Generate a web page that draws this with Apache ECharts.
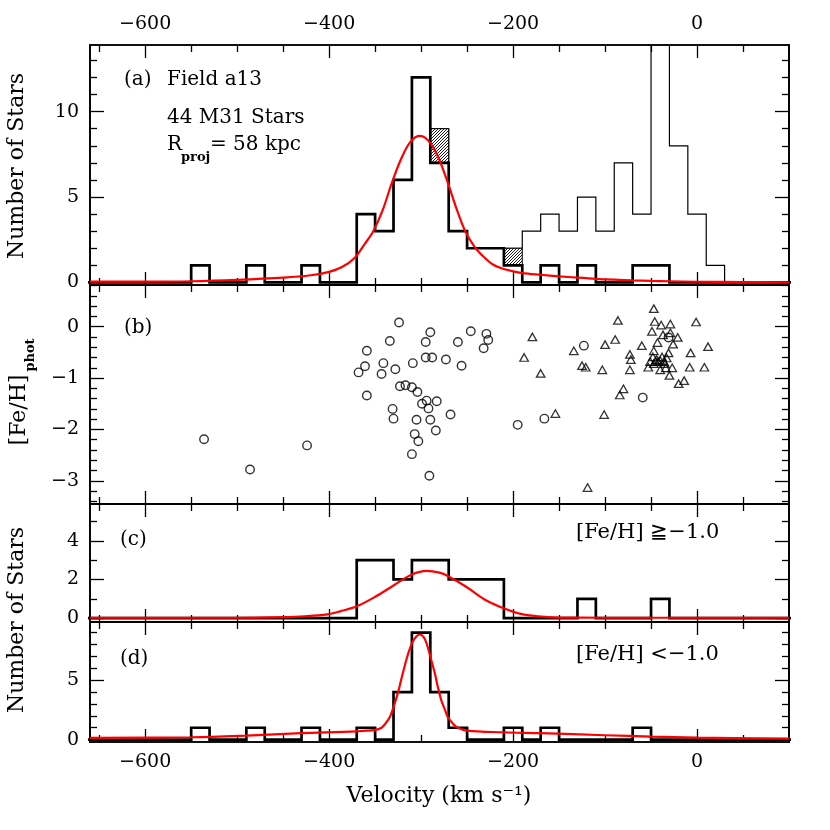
<!DOCTYPE html>
<html>
<head>
<meta charset="utf-8">
<title>Field a13 velocity distribution</title>
<script src="https://cdn.jsdelivr.net/npm/echarts@6/dist/echarts.min.js"></script>
<style>
  html, body { margin: 0; background: #fff; }
  #chart { width: 830px; height: 830px; }
</style>
</head>
<body>
<div id="chart"></div>
<script>
// 20 km/s velocity bins (left edges ... last right edge)
const binEdges = [-670, -650, -630, -610, -590, -570, -550, -530, -510, -490,
  -470, -450, -430, -410, -390, -370, -350, -330, -310, -290,
  -270, -250, -230, -210, -190, -170, -150, -130, -110, -90,
  -70, -50, -30, -10, 10, 30, 50, 70, 90, 110];

// (a) M31 members (thick)
const countsM31 = [0, 0, 0, 0, 0, 0, 1, 0, 0, 1,
  0, 0, 1, 0, 0, 4, 3, 6, 12, 7,
  3, 2, 2, 1, 0, 1, 0, 1, 0, 0,
  1, 1, 0, 0, 0, 0, 0, 0, 0];
// (a) all stars incl. foreground (thin)
const countsAll = [0, 0, 0, 0, 0, 0, 1, 0, 0, 1,
  0, 0, 1, 0, 0, 4, 3, 6, 12, 9,
  3, 2, 2, 2, 3, 4, 3, 5, 3, 7,
  4, 20, 8, 4, 1, 0, 0, 0, 0];
// (a) hatched boxes: [bin left edge, bottom, top]
const hatched = [[-290, 7, 9], [-210, 1, 2]];
// (c) [Fe/H] >= -1.0
const countsRich = [0, 0, 0, 0, 0, 0, 0, 0, 0, 0,
  0, 0, 0, 0, 0, 3, 3, 2, 3, 3,
  2, 2, 2, 0, 0, 0, 0, 1, 0, 0,
  0, 1, 0, 0, 0, 0, 0, 0, 0];
// (d) [Fe/H] < -1.0
const countsPoor = [0, 0, 0, 0, 0, 0, 1, 0, 0, 1,
  0, 0, 1, 0, 0, 1, 0, 4, 9, 4,
  1, 0, 0, 1, 0, 1, 0, 0, 0, 0,
  1, 0, 0, 0, 0, 0, 0, 0, 0];

// fitted curves: [velocity, N]
const fitA = [[-660, 0.05], [-600, 0.05], [-550, 0.07], [-500, 0.15], [-450, 0.28],
  [-420, 0.42], [-400, 0.62], [-386, 0.9], [-372, 1.45], [-362, 2.2], [-352, 3.0],
  [-342, 4.2], [-332, 5.8], [-322, 7.2], [-312, 8.2], [-302, 8.58], [-292, 8.3],
  [-282, 7.4], [-272, 6.0], [-262, 4.4], [-252, 3.0], [-242, 2.1], [-232, 1.5],
  [-222, 1.05], [-212, 0.82], [-200, 0.65], [-190, 0.55], [-170, 0.45], [-150, 0.36],
  [-130, 0.28], [-110, 0.21], [-90, 0.16], [-70, 0.12], [-50, 0.09], [-30, 0.07],
  [0, 0.04], [50, 0.02], [100, 0.01]];
const fitC = [[-660, 0.02], [-500, 0.02], [-450, 0.05], [-427, 0.09], [-402, 0.19],
  [-388, 0.35], [-370, 0.61], [-349, 1.13], [-330, 1.69], [-310, 2.25], [-294, 2.44],
  [-280, 2.35], [-271, 2.18], [-251, 1.62], [-232, 0.99], [-211, 0.52], [-193, 0.23],
  [-173, 0.09], [-150, 0.03], [-100, 0.02], [100, 0.02]];
const fitD = [[-660, 0.14], [-549, 0.2], [-490, 0.34], [-430, 0.54], [-370, 0.7],
  [-350, 0.82], [-343, 1.0], [-339, 1.33], [-334, 1.9], [-330, 2.74], [-325, 4.0],
  [-320, 5.56], [-315, 7.0], [-310, 8.1], [-305, 8.7], [-301, 8.85], [-297, 8.6],
  [-294, 8.1], [-290, 7.0], [-285, 5.56], [-282, 4.5], [-278, 3.3], [-274, 2.5],
  [-271, 1.9], [-266, 1.4], [-261, 1.05], [-250, 0.76], [-211, 0.62], [-170, 0.54],
  [-100, 0.37], [-50, 0.25], [0, 0.17], [100, 0.08]];

// (b) photometric metallicity vs velocity
const membersB = [[-536, -2.19], [-486, -2.78], [-424, -2.31], [-368, -0.89], [-361, -0.77],
  [-359, -0.47], [-359, -1.34], [-343, -0.92], [-341, -0.71], [-334, -0.28], [-324, 0.08],
  [-328, -0.83], [-331, -1.60], [-330, -1.79], [-323, -1.16], [-317, -1.14], [-310, -1.18],
  [-309, -0.71], [-304, -1.27], [-305, -1.81], [-307, -2.09], [-303, -2.23], [-310, -2.48],
  [-295, -0.30], [-290, -0.11], [-295, -0.60], [-288, -0.60], [-273, -0.64], [-299, -1.50],
  [-294, -1.44], [-292, -1.59], [-283, -1.45], [-290, -1.81], [-284, -2.02], [-291, -2.90],
  [-268, -1.71], [-256, -0.76], [-260, -0.30], [-246, -0.09], [-229, -0.14], [-227, -0.26],
  [-232, -0.42], [-195, -1.91], [-166, -1.79], [-123, -0.37], [-59, -1.38], [-31, -0.21]];
const foregroundB = [[-179, -0.20], [-188, -0.60], [-170, -0.91], [-154, -1.69], [-134, -0.47],
  [-125, -0.76], [-121, -0.79], [-119, -3.13], [-100, -0.35], [-103, -0.84], [-101, -1.71],
  [-86, 0.12], [-89, -0.25], [-80, -1.21], [-84, -1.33], [-73, -0.54], [-72, -0.64],
  [-73, -0.84], [-60, -0.37], [-53, -0.79], [-47, 0.35], [-46, 0.10], [-49, -0.09],
  [-43, -0.31], [-47, -0.47], [-39, 0.03], [-29, 0.05], [-37, -0.16], [-29, -0.12],
  [-21, -0.21], [-26, -0.34], [-31, -0.51], [-48, -0.59], [-51, -0.68], [-45, -0.68],
  [-42, -0.68], [-38, -0.59], [-36, -0.68], [-33, -0.61], [-40, -0.84], [-34, -0.80],
  [-27, -0.80], [-30, -0.95], [-20, -1.11], [-14, -1.05], [-7, -0.51], [-8, -0.79],
  [-1, 0.09], [8, -0.79], [12, -0.39], [-44, -0.64], [-40, -0.66], [-47, -0.72], [-35, -0.72]];

// axis ticks
const xMajor = [-600, -400, -200, 0];
const xMinor = [-650, -550, -500, -450, -350, -300, -250, -150, -100, -50, 50];

const serif = '"DejaVu Serif", serif';
const panels = [
  { top: 45, height: 240, yMin: -0.15, yMax: 13.9, yMajor: [0, 5, 10],
    yMinor: [1, 2, 3, 4, 6, 7, 8, 9, 11, 12, 13] },
  { top: 285, height: 219, yMin: -3.45, yMax: 0.81, yMajor: [0, -1, -2, -3],
    yMinor: [0.8, 0.6, 0.4, 0.2, -0.2, -0.4, -0.6, -0.8, -1.2, -1.4, -1.6, -1.8,
      -2.2, -2.4, -2.6, -2.8, -3.2, -3.4] },
  { top: 504, height: 118, yMin: -0.2, yMax: 5.9, yMajor: [0, 2, 4], yMinor: [1, 3, 5] },
  { top: 622, height: 120, yMin: -0.2, yMax: 9.9, yMajor: [0, 5], yMinor: [1, 2, 3, 4, 6, 7, 8, 9] }
];

function histData(counts) {
  const pts = counts.map((c, i) => [binEdges[i], c]);
  pts.push([binEdges[binEdges.length - 1], 0]);
  return pts;
}

function makeAxis(gridIndex, pos, min, max, values, len, showLabel) {
  return {
    type: 'value', gridIndex, position: pos, min, max,
    axisLine: { show: true, onZero: false, lineStyle: { color: '#000', width: 1.7 } },
    axisTick: { show: true, inside: true, length: len, customValues: values,
      lineStyle: { color: '#000', width: 1.3 } },
    axisLabel: showLabel ? {
      show: true, customValues: values, margin: 11, color: '#000',
      fontFamily: serif, fontSize: 19,
      formatter: v => String(v).replace('-', '\u2212')
    } : { show: false },
    splitLine: { show: false }
  };
}

const grids = [], xAxes = [], yAxes = [];
panels.forEach((p, i) => {
  grids.push({ left: 90, right: 41, top: p.top, height: p.height });
  xAxes.push(makeAxis(i, 'bottom', -660, 100, xMajor, 13, i === 3));
  xAxes.push(makeAxis(i, 'bottom', -660, 100, xMinor, 7, false));
  xAxes.push(makeAxis(i, 'top', -660, 100, xMajor, 13, i === 0));
  xAxes.push(makeAxis(i, 'top', -660, 100, xMinor, 7, false));
  yAxes.push(makeAxis(i, 'left', p.yMin, p.yMax, p.yMajor, 14, true));
  yAxes.push(makeAxis(i, 'left', p.yMin, p.yMax, p.yMinor, 7, false));
  yAxes.push(makeAxis(i, 'right', p.yMin, p.yMax, p.yMajor, 14, false));
  yAxes.push(makeAxis(i, 'right', p.yMin, p.yMax, p.yMinor, 7, false));
});

// diagonal hatch pattern
const hatchCanvas = document.createElement('canvas');
hatchCanvas.width = 3; hatchCanvas.height = 3;
(function () {
  const ctx = hatchCanvas.getContext('2d');
  ctx.fillStyle = '#fff'; ctx.fillRect(0, 0, 3, 3);
  ctx.strokeStyle = '#000'; ctx.lineWidth = 0.9;
  ctx.beginPath();
  ctx.moveTo(-1, 4); ctx.lineTo(4, -1);
  ctx.moveTo(-1, 1); ctx.lineTo(1, -1);
  ctx.moveTo(2, 4); ctx.lineTo(4, 2);
  ctx.stroke();
})();

function stepLine(gi, counts, width, z) {
  return {
    type: 'line', xAxisIndex: gi * 4, yAxisIndex: gi * 4, data: histData(counts),
    step: 'end', symbol: 'none', z,
    lineStyle: { color: '#000', width, join: 'miter' }
  };
}
function fitLine(gi, data) {
  return {
    type: 'line', xAxisIndex: gi * 4, yAxisIndex: gi * 4, data, smooth: 0.35,
    symbol: 'none', z: 5, lineStyle: { color: '#ff0000', width: 2.2 }
  };
}

const txt = (left, top, text, font) => ({
  type: 'text', left, top, z: 10,
  style: { text, font: font || '20px ' + serif, fill: '#000' }
});
const vtxt = (x, y, text, font) => ({
  type: 'text', x, y, rotation: Math.PI / 2, z: 10,
  style: { text, font, fill: '#000', align: 'center', verticalAlign: 'middle',
    textAlign: 'center', textVerticalAlign: 'middle' }
});

const chart = echarts.init(document.getElementById('chart'));
chart.setOption({
  animation: false,
  backgroundColor: '#fff',
  grid: grids,
  xAxis: xAxes,
  yAxis: yAxes,
  graphic: [
    txt(124, 70, '(a)'),
    txt(167, 70, 'Field a13'),
    txt(167, 108, '44 M31 Stars'),
    txt(167, 135, 'R'),
    txt(181, 151, 'proj', 'bold 13px ' + serif),
    txt(210, 135, '= 58 kpc'),
    txt(124, 318, '(b)'),
    txt(120, 530, '(c)'),
    txt(120, 649, '(d)'),
    txt(576, 522, '[Fe/H] \u2267\u22121.0', '21px ' + serif),
    txt(576, 644, '[Fe/H] <\u22121.0', '21px ' + serif),
    vtxt(17, 166, 'Number of Stars', '22px ' + serif),
    vtxt(17, 620, 'Number of Stars', '22px ' + serif),
    vtxt(19, 410, '[Fe/H]', '22px ' + serif),
    vtxt(31, 355, 'phot', 'bold 13px ' + serif),
    {
      type: 'text', x: 439, y: 796, z: 10,
      style: { text: 'Velocity (km s\u207B\u00B9)', font: '22px ' + serif, fill: '#000',
        align: 'center', verticalAlign: 'middle', textAlign: 'center', textVerticalAlign: 'middle' }
    }
  ],
  series: [
    stepLine(0, countsAll, 1.2, 2),
    {
      type: 'custom', xAxisIndex: 0, yAxisIndex: 0, z: 3, data: hatched,
      renderItem: (params, api) => {
        const lo = api.coord([api.value(0), api.value(1)]);
        const hi = api.coord([api.value(0) + 20, api.value(2)]);
        return {
          type: 'rect',
          shape: { x: lo[0], y: hi[1], width: hi[0] - lo[0], height: lo[1] - hi[1] },
          style: { fill: { image: hatchCanvas, repeat: 'repeat' }, stroke: '#000', lineWidth: 1 }
        };
      }
    },
    stepLine(0, countsM31, 2.7, 4),
    fitLine(0, fitA),
    {
      type: 'scatter', xAxisIndex: 4, yAxisIndex: 4, data: membersB, symbol: 'circle',
      symbolSize: 8.5, itemStyle: { color: 'rgba(0,0,0,0)', borderColor: '#000', borderWidth: 1.4 }
    },
    {
      type: 'scatter', xAxisIndex: 4, yAxisIndex: 4, data: foregroundB, symbol: 'triangle',
      symbolSize: [8.5, 7.5], itemStyle: { color: 'rgba(0,0,0,0)', borderColor: '#000', borderWidth: 1.3 }
    },
    stepLine(2, countsRich, 2.7, 4),
    fitLine(2, fitC),
    stepLine(3, countsPoor, 2.7, 4),
    fitLine(3, fitD)
  ]
});
</script>
</body>
</html>
